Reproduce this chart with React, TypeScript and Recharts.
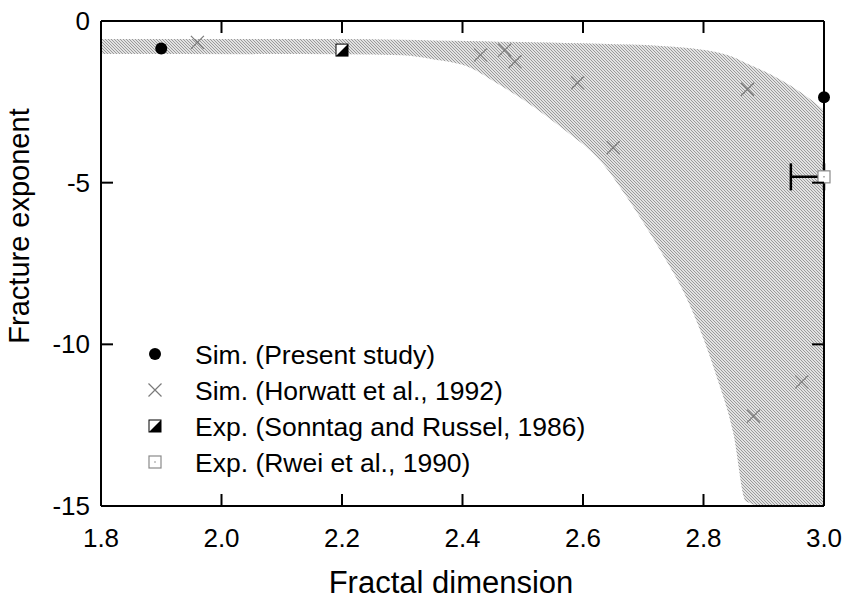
import { ComposedChart, Area, Scatter, ErrorBar, XAxis, YAxis, Legend, Label, ReferenceLine } from 'recharts';

document.body.style.margin = '0';

const FONT = 'Arial, "Liberation Sans", sans-serif';

const X_TICKS = [1.8, 2.0, 2.2, 2.4, 2.6, 2.8, 3.0];
const Y_TICKS = [-15, -10, -5, 0];

// shaded band
const bandX = [1.8, 2.2, 2.3, 2.35, 2.41, 2.46, 2.52, 2.57, 2.63, 2.68, 2.73, 2.77, 2.82, 2.85, 2.87, 2.9, 2.96, 3.0];
const bandUpper = [-0.56, -0.56, -0.58, -0.6, -0.62, -0.64, -0.66, -0.68, -0.7, -0.73, -0.77, -0.83, -0.96, -1.12, -1.3, -1.55, -2.19, -2.75];
const bandLower = [-1.02, -1.03, -1.06, -1.18, -1.42, -1.96, -2.68, -3.38, -4.35, -5.65, -7.15, -8.5, -10.9, -12.8, -14.85, -15, -15, -15];

// Sim. (Present study)
const presentX = [1.9, 3.0];
const presentY = [-0.85, -2.36];

// Sim. (Horwatt et al., 1992)
const horwattX = [1.96, 2.43, 2.47, 2.487, 2.591, 2.65, 2.873, 2.963, 2.883];
const horwattY = [-0.66, -1.05, -0.9, -1.26, -1.91, -3.92, -2.11, -11.16, -12.22];

// Exp. (Sonntag and Russel, 1986)
const sonntagX = [2.2];
const sonntagY = [-0.9];

// Exp. (Rwei et al., 1990)
const rweiX = [3.0];
const rweiY = [-4.82];
const rweiErrLeft = [0.055];

const band = bandX.map((x, i) => ({ x, range: [bandLower[i], bandUpper[i]] }));
const present = presentX.map((x, i) => ({ x, y: presentY[i] }));
const horwatt = horwattX.map((x, i) => ({ x, y: horwattY[i] }));
const sonntag = sonntagX.map((x, i) => ({ x, y: sonntagY[i] }));
const rwei = rweiX.map((x, i) => ({ x, y: rweiY[i], err: [rweiErrLeft[i], 0] }));

const W = 850;
const H = 604;
const MARGIN = { top: 21, right: 26, bottom: 97, left: 100 };
const PLOT_LEFT = 101;
const PLOT_TOP = 21;
const PLOT_RIGHT = W - MARGIN.right;
const PLOT_BOTTOM = H - MARGIN.bottom - 1;
const TICK = 12;

const DotShape = (p: any) => <circle cx={p.cx} cy={p.cy} r={6} fill="#000" />;

const CrossShape = (p: any) => {
  const { cx, cy } = p;
  const s = 6.5;
  return (
    <path
      d={`M${cx - s},${cy - s}L${cx + s},${cy + s}M${cx - s},${cy + s}L${cx + s},${cy - s}`}
      stroke="#7a7a7a"
      strokeWidth={1.2}
      fill="none"
    />
  );
};

const HalfSquareShape = (p: any) => {
  const { cx, cy } = p;
  return (
    <g>
      <rect x={cx - 6} y={cy - 6} width={12} height={12} fill="#fff" stroke="#000" strokeWidth={1} />
      <path d={`M${cx + 6},${cy - 6}L${cx + 6},${cy + 6}L${cx - 6},${cy + 6}Z`} fill="#000" />
    </g>
  );
};

const OpenSquareShape = (p: any) => {
  const { cx, cy } = p;
  return (
    <g>
      <rect x={cx - 6} y={cy - 6} width={12} height={12} fill="#fff" stroke="#8a8a8a" strokeWidth={1.2} />
      <circle cx={cx} cy={cy} r={0.8} fill="#8a8a8a" />
    </g>
  );
};

// labels outside the frame, plus the mirrored inward tick on the top / right edge
const BottomTick = (p: any) => (
  <g>
    <path d={`M${p.x},${PLOT_TOP}V${PLOT_TOP + TICK}`} stroke="#000" strokeWidth={2} />
    <text x={p.x} y={PLOT_BOTTOM + 41} textAnchor="middle" fontSize={26} fontFamily={FONT} fill="#000">
      {p.payload.value.toFixed(1)}
    </text>
  </g>
);

const LeftTick = (p: any) => (
  <g>
    <path d={`M${PLOT_RIGHT},${p.y}H${PLOT_RIGHT - TICK}`} stroke="#000" strokeWidth={2} />
    <text x={PLOT_LEFT - 11} y={p.y + 9} textAnchor="end" fontSize={26} fontFamily={FONT} fill="#000">
      {p.payload.value}
    </text>
  </g>
);

const LEGEND = [
  { name: 'Sim. (Present study)', shape: DotShape },
  { name: 'Sim. (Horwatt et al., 1992)', shape: CrossShape },
  { name: 'Exp. (Sonntag and Russel, 1986)', shape: HalfSquareShape },
  { name: 'Exp. (Rwei et al., 1990)', shape: OpenSquareShape },
];

const LegendBox = () => (
  <svg width={480} height={150} style={{ display: 'block' }}>
    {LEGEND.map((item, i) => {
      const Shape = item.shape;
      const cy = 18 + i * 36;
      return (
        <g key={item.name}>
          <Shape cx={15} cy={cy} />
          <text x={55} y={cy + 9.5} fontSize={26.5} fontFamily={FONT} fill="#000">
            {item.name}
          </text>
        </g>
      );
    })}
  </svg>
);

const axisLine = { stroke: '#000', strokeWidth: 2 };
const tickLine = { stroke: '#000', strokeWidth: 2 };

export default function App() {
  return (
    <ComposedChart width={W} height={H} margin={MARGIN}>
      <defs>
        <pattern id="hatch" width={3} height={3} patternUnits="userSpaceOnUse">
          <rect x={0} y={0} width={3} height={3} fill="#e2e2e2" />
          <rect x={0} y={0} width={1} height={1} fill="#9a9a9a" />
          <rect x={1} y={1} width={1} height={1} fill="#9a9a9a" />
          <rect x={2} y={2} width={1} height={1} fill="#9a9a9a" />
        </pattern>
      </defs>
      <Area
        data={band}
        dataKey="range"
        type="monotone"
        stroke="none"
        fill="url(#hatch)"
        fillOpacity={1}
        isAnimationActive={false}
      />
      <XAxis
        dataKey="x"
        type="number"
        domain={[1.8, 3.0]}
        ticks={X_TICKS}
        interval={0}
        height={1}
        tickSize={-TICK}
        tickMargin={0}
        tickLine={tickLine}
        tick={<BottomTick />}
        axisLine={axisLine}
      >
        <Label
          content={() => (
            <text x={451} y={593} textAnchor="middle" fontSize={31} fontFamily={FONT} fill="#000">
              Fractal dimension
            </text>
          )}
        />
      </XAxis>
      <YAxis
        type="number"
        domain={[-15, 0]}
        ticks={Y_TICKS}
        interval={0}
        width={1}
        tickSize={-TICK}
        tickMargin={0}
        tickLine={tickLine}
        tick={<LeftTick />}
        axisLine={axisLine}
      >
        <Label
          content={() => (
            <text
              x={29}
              y={226}
              transform="rotate(-90 29 226)"
              textAnchor="middle"
              fontSize={29}
              fontFamily={FONT}
              fill="#000"
            >
              Fracture exponent
            </text>
          )}
        />
      </YAxis>
      <ReferenceLine y={0} stroke="#000" strokeWidth={2} ifOverflow="visible" />
      <ReferenceLine x={3.0} stroke="#000" strokeWidth={2} ifOverflow="visible" />
      <Scatter data={horwatt} dataKey="y" shape={<CrossShape />} isAnimationActive={false} />
      <Scatter data={sonntag} dataKey="y" shape={<HalfSquareShape />} isAnimationActive={false} />
      <Scatter data={rwei} dataKey="y" shape={<OpenSquareShape />} isAnimationActive={false}>
        <ErrorBar dataKey="err" direction="x" width={13.5} strokeWidth={2.5} stroke="#000" />
      </Scatter>
      <Scatter data={present} dataKey="y" shape={<DotShape />} isAnimationActive={false} />
      <Legend
        layout="horizontal"
        verticalAlign="middle"
        align="center"
        content={() => <LegendBox />}
        wrapperStyle={{ left: 140, top: 336, width: 480, height: 150 }}
      />
    </ComposedChart>
  );
}
